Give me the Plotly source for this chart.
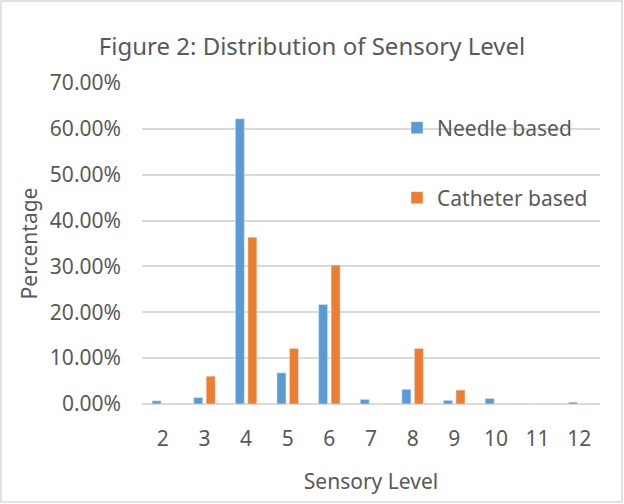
import plotly.graph_objects as go

levels = ["2", "3", "4", "5", "6", "7", "8", "9", "10", "11", "12"]
needle = [0.007, 0.014, 0.622, 0.068, 0.217, 0.010, 0.032, 0.008, 0.012, 0.0, 0.004]
catheter = [0.0, 0.0606, 0.3636, 0.1212, 0.3030, 0.0, 0.1212, 0.0303, 0.0, 0.0, 0.0]
yticks = [0, 0.1, 0.2, 0.3, 0.4, 0.5, 0.6, 0.7]

W, H = 624, 504
L, R, T, B = 142, 24, 83, 100
pw, ph = W - L - R, H - T - B

FONT = "Noto Sans"
GREY = "#595959"
FS = 21

fig = go.Figure()
fig.add_trace(go.Bar(x=levels, y=needle, name="Needle based",
                     marker_color="#5B9BD5", legend="legend"))
fig.add_trace(go.Bar(x=levels, y=catheter, name="Catheter based",
                     marker_color="#ED7D31", legend="legend2"))

def px_x(v):
    return (v - L) / pw

def px_y(v):
    return (H - B - v) / ph

legend_common = dict(
    font=dict(family=FONT, size=FS, color=GREY),
    bgcolor="rgba(0,0,0,0)",
    xanchor="left", yanchor="middle",
    itemwidth=30, visible=True,
)

fig.update_layout(
    width=W, height=H,
    margin=dict(l=L, r=R, t=T, b=B, autoexpand=False),
    paper_bgcolor="white", plot_bgcolor="white",
    showlegend=True,
    barmode="group", bargap=0.4, bargroupgap=0.28,
    title=dict(text="Figure 2: Distribution of Sensory Level",
               font=dict(family=FONT, size=24, color=GREY),
               x=0.5, xanchor="center", xref="container",
               y=1 - 47 / H, yanchor="middle", yref="container"),
    legend=dict(x=px_x(397), y=px_y(128), **legend_common),
    legend2=dict(x=px_x(397), y=px_y(198), **legend_common),
    xaxis=dict(type="category", showgrid=False, ticks="",
               tickfont=dict(family=FONT, size=FS, color=GREY),
               ticklabelstandoff=20, automargin=False,
               title=dict(text="Sensory Level", standoff=23,
                          font=dict(family=FONT, size=FS, color=GREY)),
               showline=False, zeroline=False),
    yaxis=dict(range=[0, 0.7], tickvals=yticks, tickformat=".2%",
               showgrid=True, gridcolor="#d9d9d9", gridwidth=1.5,
               zeroline=True, zerolinecolor="#d9d9d9", zerolinewidth=1.5,
               tickfont=dict(family=FONT, size=FS, color=GREY),
               ticklabelstandoff=20, ticks="", automargin=False,
               title=dict(text="Percentage", standoff=6,
                          font=dict(family=FONT, size=FS, color=GREY))),
)

fig.add_shape(type="rect", xref="paper", yref="paper",
              x0=px_x(1), x1=px_x(622), y0=px_y(502), y1=px_y(1),
              line=dict(color="#d9d9d9", width=1.5), fillcolor="rgba(0,0,0,0)",
              layer="below")

fig.write_html("out.html", config={"displayModeBar": False},
               post_script="document.body.style.margin='0';document.body.style.padding='0';")
